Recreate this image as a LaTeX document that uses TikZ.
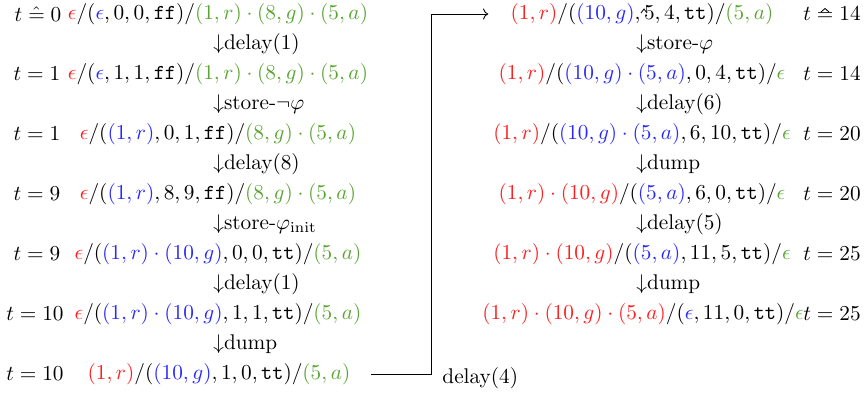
\documentclass[tikz,border=0pt]{standalone}
\usetikzlibrary{arrows.meta}
\definecolor{cR}{RGB}{255,30,30}
\definecolor{cB}{RGB}{40,40,255}
\definecolor{cG}{RGB}{90,165,50}
\newcommand{\cRd}[1]{\textcolor{cR}{#1}}
\newcommand{\cBl}[1]{\textcolor{cB}{#1}}
\newcommand{\cGr}[1]{\textcolor{cG}{#1}}
\newcommand{\ttt}{\texttt{tt}}
\newcommand{\fff}{\texttt{ff}}
\begin{document}
\begin{tikzpicture}[x=0.47pt,y=-0.47pt,
  st/.style={inner sep=0pt,anchor=center},
  tl/.style={inner sep=0pt,anchor=center},
  lab/.style={inner sep=0pt,anchor=west},
  conn/.style={draw,line width=0.4pt}]
\useasboundingbox (0,0) rectangle (866,394);
% left column
\node[tl] (t1) at (38,14) {$t \mathrel{\hat{=}} 0$};
\node[st] (L1) at (218,14) {$\cRd{\epsilon}/(\cBl{\epsilon},0,0,\fff)/\cGr{(1,r)\cdot(8,g)\cdot(5,a)}$};
\node[lab] (a1) at (213,44) {$\downarrow$delay(1)};
\node[tl] (t2) at (37,74) {$t=1$};
\node[st] (L2) at (218,74) {$\cRd{\epsilon}/(\cBl{\epsilon},1,1,\fff)/\cGr{(1,r)\cdot(8,g)\cdot(5,a)}$};
\node[lab] (a2) at (213,104) {$\downarrow$store-$\neg\varphi$};
\node[tl] (t3) at (37,134) {$t=1$};
\node[st] (L3) at (218,134) {$\cRd{\epsilon}/(\cBl{(1,r)},0,1,\fff)/\cGr{(8,g)\cdot(5,a)}$};
\node[lab] (a3) at (213,164) {$\downarrow$delay(8)};
\node[tl] (t4) at (37,194) {$t=9$};
\node[st] (L4) at (218,194) {$\cRd{\epsilon}/(\cBl{(1,r)},8,9,\fff)/\cGr{(8,g)\cdot(5,a)}$};
\node[lab] (a4) at (213,224) {$\downarrow$store-$\varphi_{\mathrm{init}}$};
\node[tl] (t5) at (37,254) {$t=9$};
\node[st] (L5) at (218,254) {$\cRd{\epsilon}/(\cBl{(1,r)\cdot(10,g)},0,0,\ttt)/\cGr{(5,a)}$};
\node[lab] (a5) at (213,284) {$\downarrow$delay(1)};
\node[tl] (t6) at (35,314) {$t=10$};
\node[st] (L6) at (218,314) {$\cRd{\epsilon}/(\cBl{(1,r)\cdot(10,g)},1,1,\ttt)/\cGr{(5,a)}$};
\node[lab] (a6) at (213,344) {$\downarrow$dump};
\node[tl] (t7) at (35,374) {$t=10$};
\node[st] (L7) at (219,374) {$\cRd{(1,r)}/(\cBl{(10,g)},1,0,\ttt)/\cGr{(5,a)}$};
% right column
\node[st] (R1) at (642,14) {$\cRd{(1,r)}/(\cBl{(10,g)},5,4,\ttt)/\cGr{(5,a)}$};
\node[tl] (u1) at (832,14) {$t=14$};
\node[lab] (b1) at (636,44) {$\downarrow$store-$\varphi$};
\node[st] (R2) at (642,74) {$\cRd{(1,r)}/(\cBl{(10,g)\cdot(5,a)},0,4,\ttt)/\cGr{\epsilon}$};
\node[tl] (u2) at (832,74) {$t=14$};
\node[lab] (b2) at (636,104) {$\downarrow$delay(6)};
\node[st] (R3) at (642,134) {$\cRd{(1,r)}/(\cBl{(10,g)\cdot(5,a)},6,10,\ttt)/\cGr{\epsilon}$};
\node[tl] (u3) at (832,134) {$t=20$};
\node[lab] (b3) at (636,164) {$\downarrow$dump};
\node[st] (R4) at (642,194) {$\cRd{(1,r)\cdot(10,g)}/(\cBl{(5,a)},6,0,\ttt)/\cGr{\epsilon}$};
\node[tl] (u4) at (832,194) {$t=20$};
\node[lab] (b4) at (636,224) {$\downarrow$delay(5)};
\node[st] (R5) at (642,254) {$\cRd{(1,r)\cdot(10,g)}/(\cBl{(5,a)},11,5,\ttt)/\cGr{\epsilon}$};
\node[tl] (u5) at (832,254) {$t=25$};
\node[lab] (b5) at (636,284) {$\downarrow$dump};
\node[st] (R6) at (643,314) {$\cRd{(1,r)\cdot(10,g)\cdot(5,a)}/(\cBl{\epsilon},11,0,\ttt)/\cGr{\epsilon}$};
\node[tl] (u6) at (832,314) {$t=25$};
% stray carets
\draw[line width=0.4pt] (641,13) -- (644,9) -- (647,13);
\draw[line width=0.4pt] (821,12) -- (825,8.5) -- (829,12);
% connector
\coordinate (vx) at (431,0);
\draw[conn,->,shorten <=9.5pt,shorten >=10.3pt] (L7.east) -- (L7.east -| vx) -- (R1.west -| vx) -- (R1.west);
\node[lab] (d4) at (442,378) {delay(4)};
\end{tikzpicture}
\end{document}
